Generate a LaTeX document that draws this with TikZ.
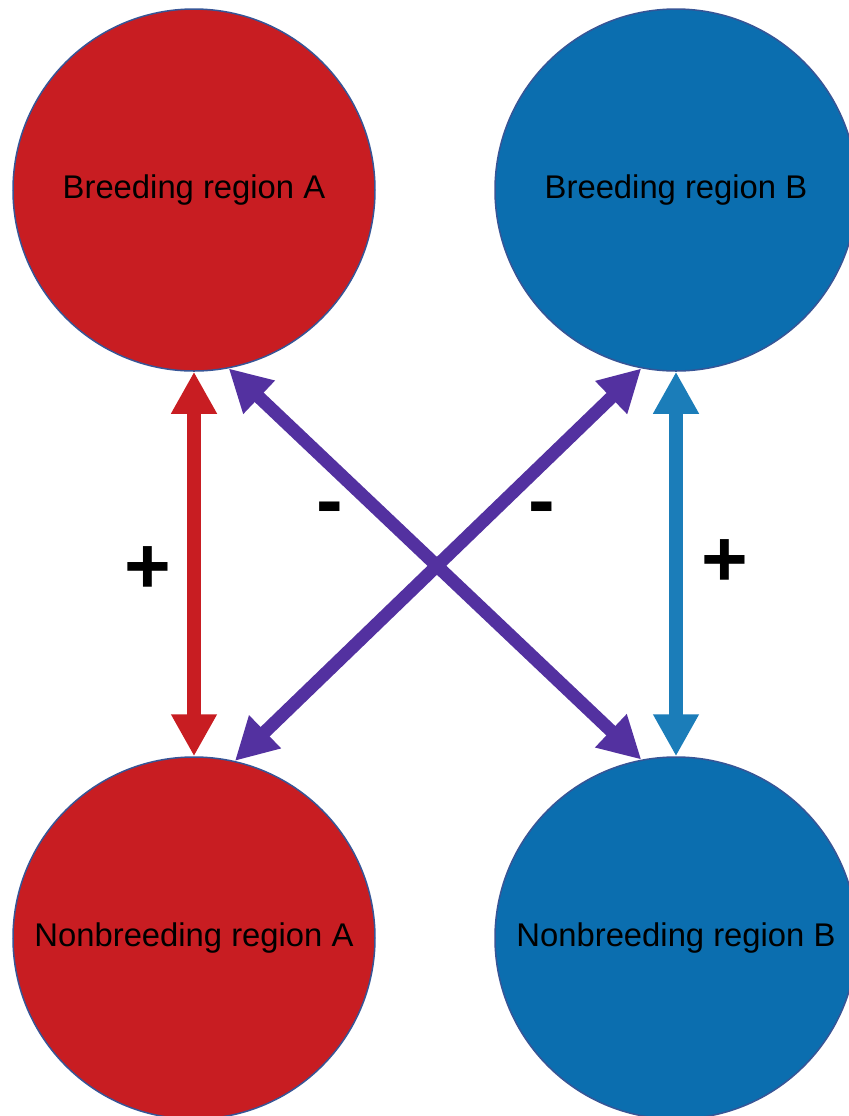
\documentclass[tikz,border=0pt]{standalone}
\usepackage{fontspec}
\setmainfont{Liberation Sans}
\usetikzlibrary{arrows.meta,positioning}
\definecolor{regionA}{RGB}{200,29,34}
\definecolor{regionB}{RGB}{11,110,175}
\definecolor{linkB}{RGB}{27,125,185}
\definecolor{crosslink}{RGB}{83,49,160}
\definecolor{rimcol}{RGB}{55,85,150}
\tikzset{
  region/.style={circle,draw=rimcol,line width=.75pt,minimum size=181pt,inner sep=0pt,
                 font=\fontsize{16.4pt}{19pt}\selectfont,text=black},
  regA/.style={region,fill=regionA},
  regB/.style={region,fill=regionB},
  link/.style={{Triangle[width=21.5pt,length=21pt]}-{Triangle[width=21.5pt,length=21pt]},
               line width=7pt},
  sign/.style={font=\fontsize{40pt}{44pt}\selectfont\bfseries,inner sep=0pt},
}
\begin{document}
\begin{tikzpicture}[x=.5pt,y=-.5pt]
  \useasboundingbox (0,0) rectangle (848,1116);
  % --- the four regions
  \node[regA] (breedA) at (194,190) {Breeding region A};
  \node[regB] (breedB) at (676,190) {Breeding region B};
  \node[regA] (nonbA) at (194,938) {Nonbreeding region A};
  \node[regB] (nonbB) at (676,938) {Nonbreeding region B};
  % --- links
  \draw[link,draw=regionA,fill=regionA] (breedA.south) -- (nonbA.north);
  \draw[link,draw=linkB,fill=linkB] (breedB.south) -- (nonbB.north);
  \draw[link,line width=6.5pt,draw=crosslink,fill=crosslink] (breedA.-79) -- (nonbB.101);
  \draw[link,line width=6.5pt,draw=crosslink,fill=crosslink] (breedB.-101) -- (nonbA.77);
  % --- signs
  \node[sign] (plusA) at (148,570) {+};
  \node[sign] (minusA) at (330,515) {-};
  \node[sign] (minusB) at (542,515) {-};
  \node[sign] (plusB) at (725,563) {+};
\end{tikzpicture}
\end{document}
